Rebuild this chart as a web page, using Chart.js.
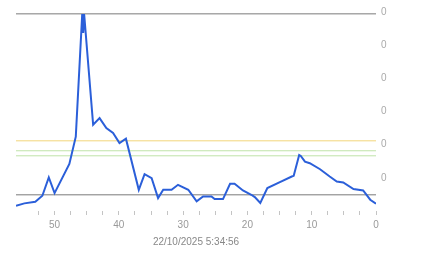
<!DOCTYPE html>
<html>
<head>
<meta charset="utf-8">
<script src="https://cdn.jsdelivr.net/npm/chart.js@4/dist/chart.umd.min.js"></script>
<style>
  html, body { margin: 0; padding: 0; background: #fff; }
  #wrap { width: 443px; height: 258px; }
</style>
</head>
<body>
<div id="wrap"><canvas id="chart" width="443" height="258"></canvas></div>
<script>
// ---- data (age on x axis, value on y axis) ----
const ages = [56, 54.7, 53, 51.9, 50.9, 50, 47.7, 46.7, 45.7, 45.55, 45.4, 44, 43, 41.95, 40.9, 39.9, 38.9,
  36.9, 36, 34.9, 33.9, 33.1, 31.8, 30.8, 29.2, 27.9, 26.9, 25.6, 25.1, 23.8, 22.7, 22, 20.7, 19.4, 18.85,
  18, 16.9, 14.95, 13.1, 12.8, 11.95, 11.7, 11.05, 10.3, 8.7, 7.2, 6.1, 5.1, 3.5, 2, 0.9, 0];
const values = [0.008, 0.0115, 0.014, 0.023, 0.0505, 0.027, 0.071, 0.112, 0.297, 0.2685, 0.297, 0.13, 0.14, 0.125, 0.1175, 0.1025, 0.109,
  0.032, 0.0555, 0.0495, 0.0195, 0.032, 0.032, 0.0395, 0.032, 0.0145, 0.022, 0.022, 0.018, 0.018, 0.041, 0.041, 0.031, 0.0245, 0.021,
  0.012, 0.0345, 0.0435, 0.052, 0.053, 0.0845, 0.083, 0.0745, 0.072, 0.063, 0.052, 0.0445, 0.043, 0.033, 0.031, 0.017, 0.011];

// reference levels
const maxLevel = 0.2972;
const lowLevel = 0.0244;
const yellowLevel = 0.1058;
const greenLevels = [0.0908, 0.0832];

const xRange = [0, 56];
const yRange = [0, 0.3];
const timestamp = '22/10/2025 5:34:56';

function hLine(level, color) {
    return {
        data: xRange.map(x => ({ x: x, y: level })),
        borderColor: color, borderWidth: 1, pointRadius: 0, fill: false
    };
}

const ctx = document.getElementById('chart').getContext('2d');
new Chart(ctx, {
    type: 'line',
    data: {
        datasets: [
            {
                data: ages.map((a, i) => ({ x: a, y: values[i] })),
                borderColor: '#2b5fd9', borderWidth: 2, pointRadius: 0, tension: 0, fill: false
            },
            hLine(maxLevel, '#7a7a7a'),
            hLine(lowLevel, '#7a7a7a'),
            hLine(yellowLevel, '#f2d57a'),
            hLine(greenLevels[0], '#bfe3a8'),
            hLine(greenLevels[1], '#bfe3a8')
        ]
    },
    options: {
        responsive: false,
        animation: false,
        layout: { padding: { left: 16, top: 12, right: 0, bottom: 0 } },
        plugins: { legend: { display: false }, tooltip: { enabled: false } },
        scales: {
            x: {
                type: 'linear', reverse: true, min: xRange[0], max: xRange[1],
                afterBuildTicks: s => { s.ticks = s.ticks.filter(t => t.value % 2.5 === 0); },
                afterFit: s => { s.height = 47; },
                border: { display: false },
                grid: { drawOnChartArea: false, tickLength: 4, color: '#c4c4c4' },
                ticks: {
                    stepSize: 2.5, autoSkip: false, maxRotation: 0, padding: 4,
                    color: '#999', font: { family: 'Liberation Sans, Arial', size: 10 },
                    callback: v => (v % 10 === 0 ? String(v) : '')
                },
                title: {
                    display: true, text: timestamp, color: '#888',
                    font: { family: 'Liberation Sans, Arial', size: 10 },
                    padding: { top: 5, bottom: 10 }
                }
            },
            y: {
                position: 'right', min: yRange[0], max: yRange[1],
                afterBuildTicks: s => { s.ticks = s.ticks.filter(t => t.value > 0); },
                afterFit: s => { s.width = 67; },
                border: { display: false },
                grid: { display: false, drawTicks: false, tickLength: 0 },
                ticks: {
                    stepSize: 0.05, padding: 5,
                    color: '#aaa', font: { family: 'Liberation Sans, Arial', size: 10 },
                    callback: v => v.toFixed(0)
                }
            }
        }
    }
});
</script>
</body>
</html>
